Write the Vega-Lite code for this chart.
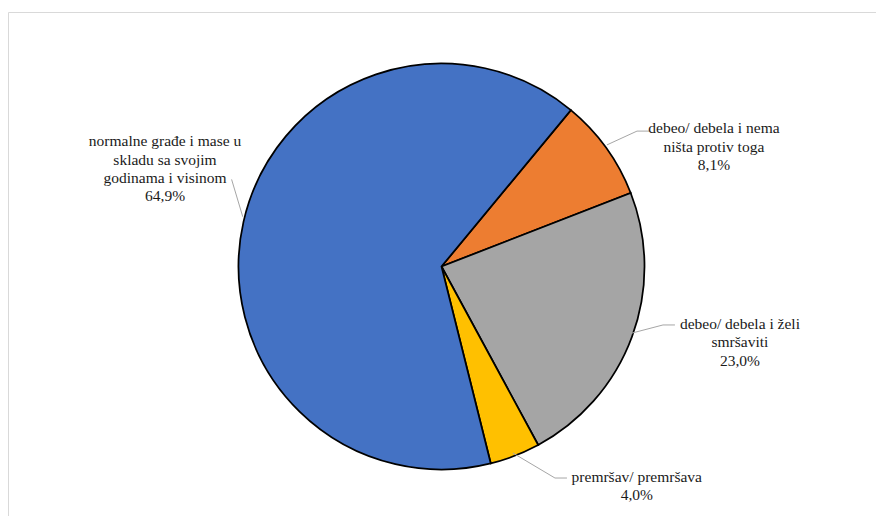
{
  "$schema": "https://vega.github.io/schema/vega-lite/v6.json",
  "width": 880,
  "height": 520,
  "autosize": {"type": "none"},
  "padding": {"left": 8, "top": 12, "right": 0, "bottom": 0},
  "background": "white",
  "config": {"view": {"stroke": "#d9d9d9", "strokeWidth": 1}},
  "datasets": {
    "slices": [
      {"cat": "debeo/ debela i nema ništa protiv toga", "value": 8.1, "k": 1},
      {"cat": "debeo/ debela i želi smršaviti", "value": 23.0, "k": 2},
      {"cat": "premršav/ premršava", "value": 4.0, "k": 3},
      {"cat": "normalne građe i mase u skladu sa svojim godinama i visinom", "value": 64.9, "k": 4}
    ],
    "labels": [
      {"text": "normalne građe i mase u\nskladu sa svojim\ngodinama i visinom\n64,9%", "lx": -1.362, "ly": 0.616},
      {"text": "debeo/ debela i nema\nništa protiv toga\n8,1%", "lx": 1.342, "ly": 0.680},
      {"text": "debeo/ debela i želi\nsmršaviti\n23,0%", "lx": 1.470, "ly": -0.283},
      {"text": "premršav/ premršava\n4,0%", "lx": 0.962, "ly": -1.037}
    ],
    "leaders": [
      {"g": "a", "p": 1, "lx": -1.034, "ly": 0.429},
      {"g": "a", "p": 2, "lx": -0.979, "ly": 0.245},
      {"g": "b", "p": 1, "lx": 1.027, "ly": 0.667},
      {"g": "b", "p": 2, "lx": 0.963, "ly": 0.667},
      {"g": "b", "p": 3, "lx": 0.815, "ly": 0.599},
      {"g": "c", "p": 1, "lx": 1.150, "ly": -0.288},
      {"g": "c", "p": 2, "lx": 1.091, "ly": -0.288},
      {"g": "c", "p": 3, "lx": 0.938, "ly": -0.328},
      {"g": "d", "p": 1, "lx": 0.618, "ly": -1.042},
      {"g": "d", "p": 2, "lx": 0.559, "ly": -1.042},
      {"g": "d", "p": 3, "lx": 0.352, "ly": -0.919}
    ]
  },
  "layer": [
    {
      "data": {"name": "slices"},
      "mark": {"type": "arc", "outerRadius": 203, "stroke": "#000000", "strokeWidth": 1.75},
      "encoding": {
        "x": {"datum": 0, "type": "quantitative", "scale": {"domain": [-2.1355, 2.1995], "nice": false, "zero": false}, "axis": null},
        "y": {"datum": 0, "type": "quantitative", "scale": {"domain": [-1.3079, 1.2537], "nice": false, "zero": false}, "axis": null},
        "theta": {"field": "value", "type": "quantitative", "stack": true, "scale": {"range": [0.6911, 6.9743]}},
        "order": {"field": "k", "type": "quantitative"},
        "color": {
          "field": "cat", "type": "nominal", "legend": null,
          "scale": {
            "domain": ["debeo/ debela i nema ništa protiv toga", "debeo/ debela i želi smršaviti", "premršav/ premršava", "normalne građe i mase u skladu sa svojim godinama i visinom"],
            "range": ["#ED7D31", "#A5A5A5", "#FFC000", "#4472C4"]
          }
        }
      }
    },
    {
      "data": {"name": "leaders"},
      "mark": {"type": "line", "stroke": "#a6a6a6", "strokeWidth": 1},
      "encoding": {
        "x": {"field": "lx", "type": "quantitative", "scale": {"domain": [-2.1355, 2.1995], "nice": false, "zero": false}, "axis": null},
        "y": {"field": "ly", "type": "quantitative", "scale": {"domain": [-1.3079, 1.2537], "nice": false, "zero": false}, "axis": null},
        "detail": {"field": "g"},
        "order": {"field": "p", "type": "quantitative"}
      }
    },
    {
      "data": {"name": "labels"},
      "mark": {"type": "text", "font": "Liberation Serif", "fontSize": 15.5, "lineHeight": 18.3, "align": "center", "baseline": "middle", "color": "#1a1a1a", "lineBreak": "\n"},
      "encoding": {
        "x": {"field": "lx", "type": "quantitative", "scale": {"domain": [-2.1355, 2.1995], "nice": false, "zero": false}, "axis": null},
        "y": {"field": "ly", "type": "quantitative", "scale": {"domain": [-1.3079, 1.2537], "nice": false, "zero": false}, "axis": null},
        "text": {"field": "text"}
      }
    }
  ]
}
